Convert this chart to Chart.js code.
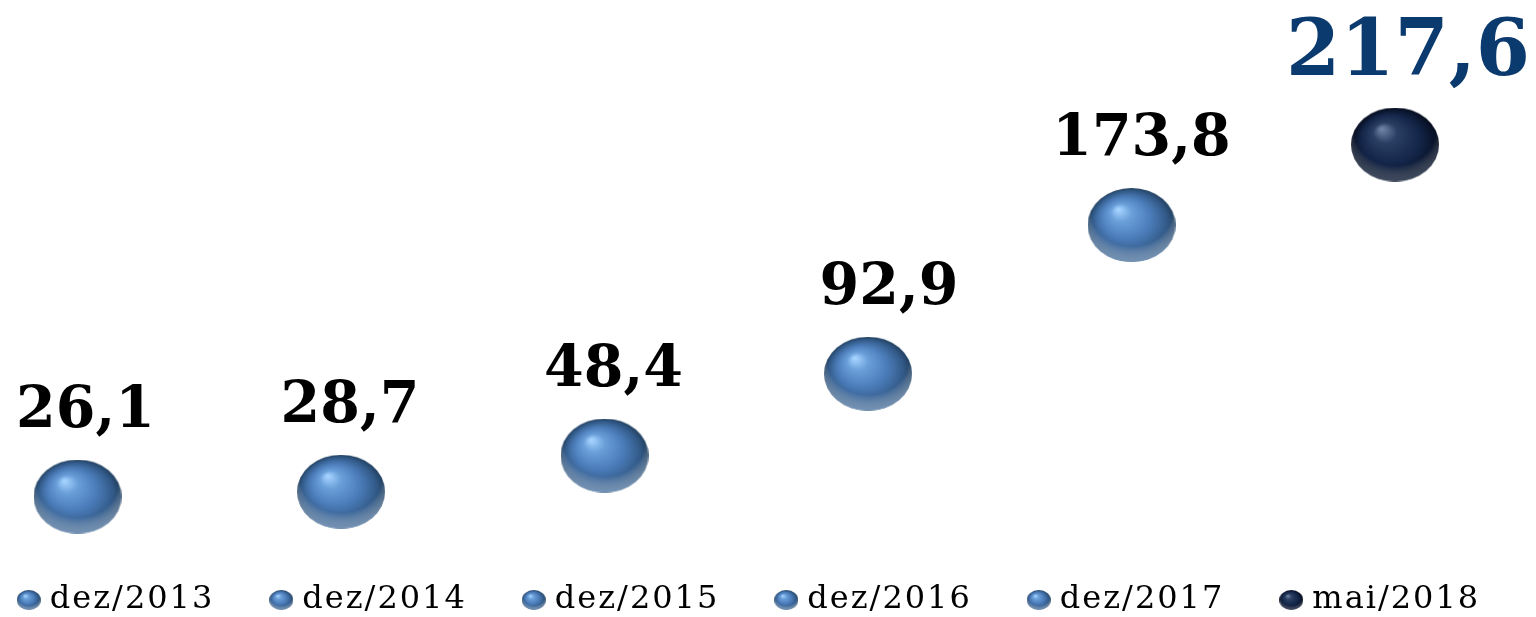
<!DOCTYPE html>
<html>
<head>
<meta charset="utf-8">
<script src="https://cdn.jsdelivr.net/npm/chart.js@4/dist/chart.umd.min.js"></script>
<style>
  html, body { margin: 0; padding: 0; background: #fff; overflow: hidden; }
  #wrap { width: 1536px; height: 617px; overflow: hidden; position: relative; }
  /* canvas is a bit larger than the page so the legend keeps one row */
  #chart { position: absolute; left: -48px; top: 0; }
</style>
</head>
<body>
<div id="wrap"><canvas id="chart" width="1600" height="626"></canvas></div>
<script>
// chart data
var categories = ['dez/2013', 'dez/2014', 'dez/2015', 'dez/2016', 'dez/2017', 'mai/2018'];
var values = [26.1, 28.7, 48.4, 92.9, 173.8, 217.6];
var highlightLast = true;

// sphere sprite, used as point style
function makeSphere(w, h, dark) {
    var c = document.createElement('canvas');
    c.width = w; c.height = h;
    var g = c.getContext('2d');
    var r = w / 2;
    g.translate(w / 2, h / 2);
    g.scale(1, h / w);
    var grad = g.createRadialGradient(-r * 0.3, -r * 0.42, r * 0.03, 0, 0, r);
    if (dark) {
        grad.addColorStop(0, '#6d82a3');
        grad.addColorStop(0.25, '#2a3f63');
        grad.addColorStop(0.65, '#14264a');
        grad.addColorStop(1, '#060d1e');
    } else {
        grad.addColorStop(0, '#a4d2ff');
        grad.addColorStop(0.22, '#6a9fd9');
        grad.addColorStop(0.55, '#4c7dba');
        grad.addColorStop(0.85, '#325a88');
        grad.addColorStop(1, '#22405f');
    }
    g.beginPath();
    g.arc(0, 0, r, 0, Math.PI * 2);
    g.fillStyle = grad;
    g.fill();
    // lighter rim at the bottom
    var rim = g.createRadialGradient(0, -r * 0.35, r * 0.92, 0, -r * 0.2, r * 1.25);
    rim.addColorStop(0, 'rgba(255,255,255,0)');
    rim.addColorStop(1, dark ? 'rgba(110,130,160,0.5)' : 'rgba(140,178,222,0.75)');
    g.save();
    g.clip();
    g.fillStyle = rim;
    g.fillRect(-r, -r, w, w);
    g.restore();
    return c;
}

var bigBlue = makeSphere(88, 74, false);
var bigDark = makeSphere(88, 74, true);
var smallBlue = makeSphere(24, 20, false);
var smallDark = makeSphere(24, 20, true);

var datasets = categories.map(function(cat, i) {
    var dark = highlightLast && i === categories.length - 1;
    return {
        label: cat,
        data: [{ x: i, y: values[i] }],
        pointStyle: dark ? bigDark : bigBlue,
        legendIcon: dark ? smallDark : smallBlue,
        backgroundColor: dark ? '#14264a' : '#4c7dba',
        clip: false
    };
});

// spacing of the legend text (Cambria-like width)
var spacing = {
    id: 'spacing',
    beforeUpdate: function(chart) { chart.ctx.letterSpacing = '2px'; },
    beforeDraw: function(chart) { chart.ctx.letterSpacing = '2px'; }
};

var labelShift = [8, 9, 9, 21, 10, 13];

var valueLabels = {
    id: 'valueLabels',
    afterDatasetsDraw: function(chart) {
        var ctx = chart.ctx;
        ctx.save();
        ctx.letterSpacing = '0px';
        ctx.textAlign = 'center';
        ctx.textBaseline = 'alphabetic';
        chart.data.datasets.forEach(function(ds, i) {
            var el = chart.getDatasetMeta(i).data[0];
            if (!el) return;
            var last = highlightLast && i === values.length - 1;
            var txt = values[i].toFixed(1).replace('.', ',');
            ctx.fillStyle = last ? '#0b3a6e' : '#000';
            ctx.font = 'bold ' + (last ? 78 : 57) + 'px "DejaVu Serif"';
            ctx.fillText(txt, el.x + labelShift[i], el.y - 70);
        });
        ctx.restore();
    }
};

var myChart = new Chart(document.getElementById('chart'), {
    type: 'scatter',
    data: { datasets: datasets },
    plugins: [spacing, valueLabels],
    options: {
        responsive: false,
        animation: false,
        events: [],
        layout: { padding: 0, autoPadding: false },
        scales: {
            x: { display: false, min: -0.4763, max: 5.5958 },
            y: { display: false, min: 12.24, max: 296.24 }
        },
        plugins: {
            tooltip: { enabled: false },
            legend: {
                position: 'bottom',
                padding: 0,
                labels: {
                    usePointStyle: true,
                    boxWidth: 10,
                    padding: 62,
                    color: '#111',
                    font: { family: '"DejaVu Serif"', size: 32 },
                    generateLabels: function(chart) {
                        return chart.data.datasets.map(function(ds, i) {
                            return {
                                text: ds.label,
                                pointStyle: ds.legendIcon,
                                fillStyle: ds.backgroundColor,
                                strokeStyle: ds.backgroundColor,
                                lineWidth: 0,
                                hidden: false,
                                datasetIndex: i
                            };
                        });
                    }
                }
            }
        }
    }
});
</script>
</body>
</html>
